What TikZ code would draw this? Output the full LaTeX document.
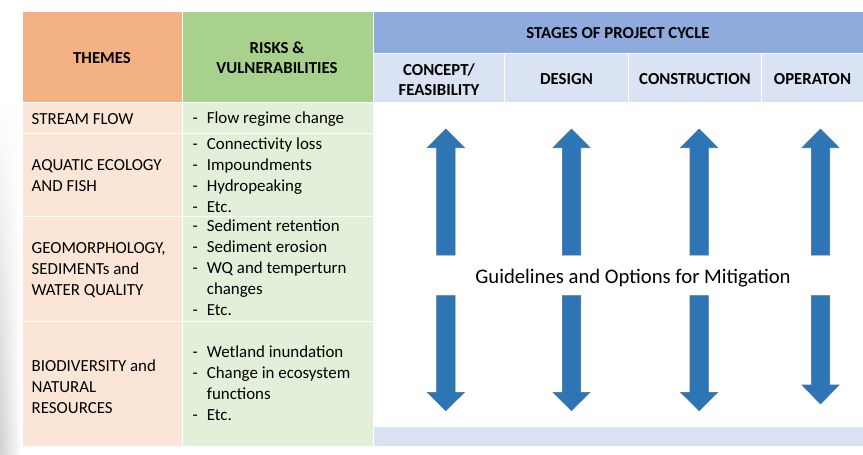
\documentclass[tikz,border=0pt]{standalone}
\usepackage{fontspec}
\setmainfont{Carlito}
\usetikzlibrary{fadings}
\definecolor{themehead}{RGB}{244,177,131}
\definecolor{riskhead}{RGB}{169,209,142}
\definecolor{stagehead}{RGB}{143,170,220}
\definecolor{stagesub}{RGB}{218,227,243}
\definecolor{themecell}{RGB}{251,229,214}
\definecolor{riskcell}{RGB}{226,240,217}
\definecolor{arrowblue}{RGB}{46,117,182}
\definecolor{arrowedge}{RGB}{65,113,156}
\begin{document}
\begin{tikzpicture}[x=1pt,y=-1pt,
  cell/.style={draw=white, line width=1pt},
  head/.style={font=\fontsize{16.8}{20}\selectfont\bfseries, align=center, inner sep=0pt},
  body/.style={font=\fontsize{16.9}{21}\selectfont, align=left, anchor=west, inner sep=0pt},
  blockarrow/.style={fill=arrowblue, draw=arrowedge, line width=0.6pt, line join=miter}
]
\useasboundingbox (0,0) rectangle (863,455);
\fill[white] (0,0) rectangle (863,455);
\shade[left color=black!18, right color=white, path fading=north] (0,100) rectangle (21,455);

% header cells
\path[cell, fill=themehead] (22,11) rectangle (182.5,102.5);
\path[cell, fill=riskhead] (182.5,11) rectangle (373.5,102.5);
\path[cell, fill=stagehead] (373.5,11) rectangle (866,53);
\path[cell, fill=stagesub] (373.5,53) rectangle (504.5,102.5);
\path[cell, fill=stagesub] (504.5,53) rectangle (628.5,102.5);
\path[cell, fill=stagesub] (628.5,53) rectangle (761.5,102.5);
\path[cell, fill=stagesub] (761.5,53) rectangle (866,102.5);

% body cells
\foreach \ya/\yb in {102.5/133.5, 133.5/216.5, 216.5/321, 321/446.5} {
  \path[cell, fill=themecell] (22,\ya) rectangle (182.5,\yb);
  \path[cell, fill=riskcell] (182.5,\ya) rectangle (373.5,\yb);
}
\path[cell, fill=stagesub] (373.5,426) rectangle (866,446.5);

% header texts
\node[head] (themes) at (102,58) {THEMES};
\node[head] (risks) at (277,58) {RISKS \&\\VULNERABILITIES};
\node[head] (stages) at (618,33) {STAGES OF PROJECT CYCLE};
\node[head] (concept) at (439,80) {CONCEPT/\\FEASIBILITY};
\node[head] (design) at (566.5,79) {DESIGN};
\node[head] (construction) at (695,79) {CONSTRUCTION};
\node[head] (operation) at (812.5,79) {OPERATON};

% theme texts
\node[body] (t1) at (31.5,119) {STREAM FLOW};
\node[body] (t2) at (31.5,176) {AQUATIC ECOLOGY\\AND FISH};
\node[body] (t3) at (31.5,270) {GEOMORPHOLOGY,\\SEDIMENTs and\\WATER QUALITY};
\node[body] (t4) at (31.5,386.5) {BIODIVERSITY and\\NATURAL\\RESOURCES};

% risk texts
\node[body] (r1) at (192.5,119) {\begin{tabular}{@{}l@{\hspace{9pt}}l@{}}-&Flow regime change\end{tabular}};
\node[body] (r2) at (192.5,176.5) {\begin{tabular}{@{}l@{\hspace{9pt}}l@{}}-&Connectivity loss\\-&Impoundments\\-&Hydropeaking\\-&Etc.\end{tabular}};
\node[body] (r3) at (192.5,269.5) {\begin{tabular}{@{}l@{\hspace{9pt}}l@{}}-&Sediment retention\\-&Sediment erosion\\-&WQ and temperturn\\&changes\\-&Etc.\end{tabular}};
\node[body] (r4) at (192.5,384.5) {\begin{tabular}{@{}l@{\hspace{9pt}}l@{}}-&Wetland inundation\\-&Change in ecosystem\\&functions\\-&Etc.\end{tabular}};

% arrows
\foreach \x in {445.8,571.5,699.2,820.5} {
  \path[blockarrow] ({\x-9.2},255) -- ({\x-9.2},147.7) -- ({\x-18.5},147.7) -- (\x,129)
    -- ({\x+18.5},147.7) -- ({\x+9.2},147.7) -- ({\x+9.2},255) -- cycle;
}
\foreach \x/\b/\t in {445.8/392.3/410.7, 571.5/392.3/410.7, 699.2/392.3/410.7, 820.5/385/404} {
  \path[blockarrow] ({\x-9.2},295.7) -- ({\x-9.2},\b) -- ({\x-18.5},\b) -- (\x,\t)
    -- ({\x+18.5},\b) -- ({\x+9.2},\b) -- ({\x+9.2},295.7) -- cycle;
}

\node[font=\fontsize{20.7}{24}\selectfont, inner sep=0pt] (guide) at (633,278) {Guidelines and Options for Mitigation};
\end{tikzpicture}
\end{document}
